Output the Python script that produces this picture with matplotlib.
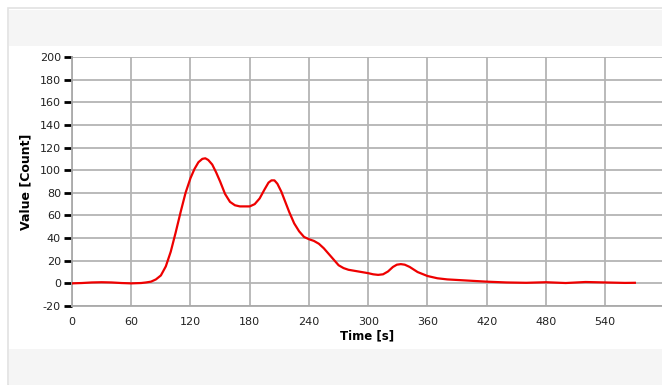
import numpy as np
import matplotlib.pyplot as plt
from matplotlib.patches import Rectangle

plt.rcParams['axes.unicode_minus'] = False

# values
time_s = [0, 10, 20, 30, 40, 50, 60, 70, 75, 80, 85, 90, 95, 100, 105, 110,
          115, 120, 124, 128, 132, 135, 138, 142, 146, 150, 155, 160, 165,
          170, 175, 180, 185, 190, 195, 199, 202, 205, 208, 212, 216, 220,
          225, 230, 235, 240, 245, 250, 255, 260, 265, 270, 275, 280, 290,
          300, 305, 310, 315, 320, 325, 329, 333, 337, 342, 350, 360, 370,
          380, 400, 420, 440, 460, 480, 500, 520, 540, 560, 570]
count = [0, 0.3, 0.8, 1.0, 0.8, 0.3, 0, 0.3, 0.8, 1.5, 3.5, 7, 15, 28, 45, 63,
         80, 93, 101, 107, 110, 110.5, 109, 105, 98, 90, 79, 72, 69,
         68, 68, 68, 70, 75, 83, 89, 91, 91, 88, 81, 72, 63,
         53, 46, 41, 39, 37.5, 35, 31, 26, 21, 16, 13.5, 12, 10.5,
         9, 8, 7.5, 8, 10.5, 14.5, 16.5, 17, 16.5, 14.5, 10, 6.5, 4.5,
         3.5, 2.5, 1.5, 0.8, 0.5, 1.0, 0.3, 1.2, 0.8, 0.4, 0.5]

x_ticks = np.arange(0, 541, 60)
y_ticks = np.arange(-20, 201, 20)

W, H = 662, 385
fig = plt.figure(figsize=(W / 100, H / 100), dpi=100)

# panel background and grey bands (behind the axes)
fig.patches.append(Rectangle((8 / W, 0), 1, 1 - 8 / H, transform=fig.transFigure,
                             facecolor='white', edgecolor='#e2e2e2', lw=1.2, zorder=-10))
fig.patches.append(Rectangle((9 / W, 1 - 46 / H), 1, 36 / H, transform=fig.transFigure,
                             facecolor='#f5f5f5', edgecolor='none', zorder=-9))
fig.patches.append(Rectangle((9 / W, 0), 1, 36 / H, transform=fig.transFigure,
                             facecolor='#f5f5f5', edgecolor='none', zorder=-9))

ax = fig.add_axes([72 / W, 1 - 306 / H, (W - 72) / W, 249 / H])
ax.set_facecolor('white')
ax.plot(time_s, count, color='#ee0000', lw=1.6, zorder=3,
        solid_joinstyle='round')

ax.set_xlim(0, 597.5)
ax.set_ylim(-20, 200)
ax.set_xticks(x_ticks)
ax.set_yticks(y_ticks)
ax.grid(True, color='#b4b4b4', lw=1.3)
ax.set_axisbelow(True)

for s in ['top', 'right']:
    ax.spines[s].set_visible(False)
for s in ['left', 'bottom']:
    ax.spines[s].set_color('#aaaaaa')
    ax.spines[s].set_linewidth(1.3)

ax.tick_params(axis='y', length=6, width=2, color='black', labelsize=8,
               labelcolor='#222222', pad=2)
ax.tick_params(axis='x', length=0, labelsize=8, labelcolor='#222222', pad=8)

ax.set_xlabel('Time [s]', fontsize=8.5, fontweight='bold', labelpad=2)
ax.set_ylabel('Value [Count]', fontsize=9, fontweight='bold', labelpad=5)

fig.savefig('out.png', dpi=100)
